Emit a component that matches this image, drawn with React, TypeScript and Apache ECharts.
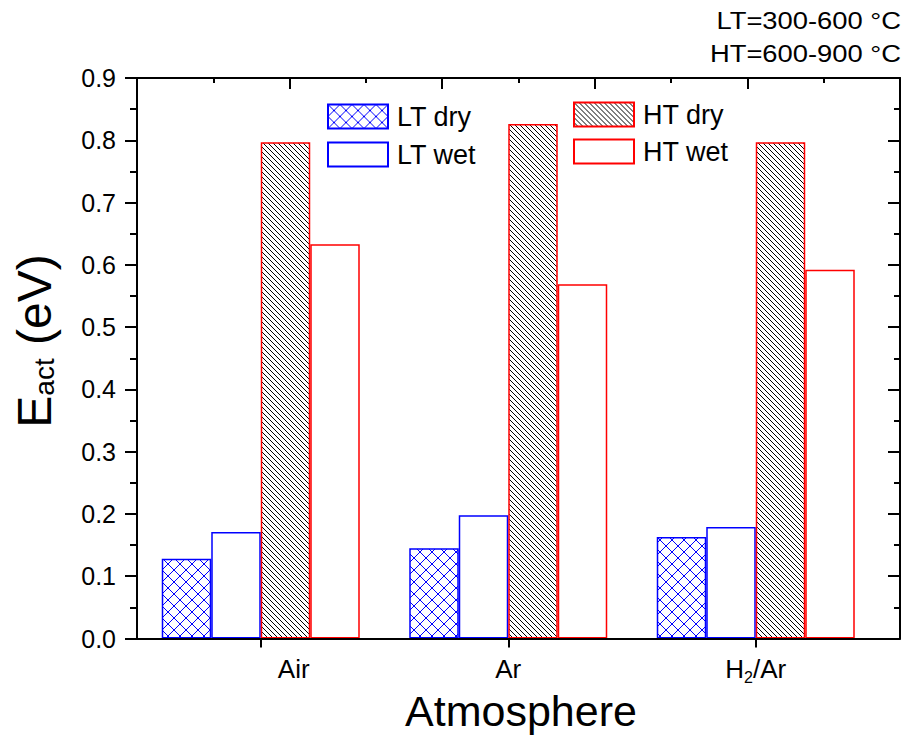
import React, { useEffect, useRef } from "react";
import * as echarts from "echarts";

const categories = ["Air", "Ar", "H2/Ar"];
const ltDry = [0.128, 0.145, 0.163];
const ltWet = [0.171, 0.198, 0.179];
const htDry = [0.797, 0.826, 0.797];
const htWet = [0.633, 0.569, 0.592];
const seriesNames = ["LT dry", "LT wet", "HT dry", "HT wet"];
const yMin = 0;
const yMax = 0.9;
const yStep = 0.1;
const noteLines = ["LT=300-600 \u00B0C", "HT=600-900 \u00B0C"];

const FONT = "'Liberation Sans', Arial, Helvetica, sans-serif";

function makePattern(kind: "cross" | "diag", color: string) {
  const p = kind === "cross" ? 12 : 5;
  const c = document.createElement("canvas");
  c.width = p;
  c.height = p;
  const ctx = c.getContext("2d")!;
  ctx.fillStyle = "#ffffff";
  ctx.fillRect(0, 0, p, p);
  ctx.fillStyle = color;
  for (let i = 0; i < p; i++) {
    ctx.fillRect(i, i, 1, 1);
    if (kind === "cross") ctx.fillRect(i, p - 1 - i, 1, 1);
  }
  return {
    image: c.toDataURL(),
    repeat: "repeat",
    imageWidth: p,
    imageHeight: p,
  } as any;
}

export default function App() {
  const ref = useRef<HTMLDivElement>(null);
  useEffect(() => {
    document.body.style.margin = "0";
    if (!ref.current) return;
    const chart = echarts.init(ref.current, null, { renderer: "svg" });
    const blue = "#0000ff";
    const red = "#ff0000";
    const black = "#000000";
    const crossBlue = makePattern("cross", blue);
    const diagBlack = makePattern("diag", black);

    const frameLine = () => ({ show: true, onZero: false, lineStyle: { color: black, width: 2 } });
    const gridBox = { left: 137, top: 78, height: 560.5 };

    const legendText = { fontSize: 27, color: black, fontFamily: FONT, padding: [0, 0, 0, 4] };

    const option: any = {
      animation: false,
      backgroundColor: "#ffffff",
      textStyle: { fontFamily: FONT },
      grid: [
        { ...gridBox, width: 763, containLabel: false },
        { ...gridBox, width: 742.5, containLabel: false },
      ],
      legend: [
        {
          orient: "vertical",
          left: 327,
          top: 103,
          padding: 0,
          itemWidth: 60,
          itemHeight: 24,
          itemGap: 11,
          icon: "rect",
          data: [seriesNames[0], seriesNames[1]],
          textStyle: legendText,
        },
        {
          orient: "vertical",
          left: 573,
          top: 101,
          padding: 0,
          itemWidth: 60,
          itemHeight: 24,
          itemGap: 10,
          icon: "rect",
          data: [seriesNames[2], seriesNames[3]],
          textStyle: legendText,
        },
      ],
      xAxis: [
        {
          gridIndex: 0,
          type: "value",
          position: "bottom",
          min: 0,
          max: 1,
          z: 5,
          axisLine: frameLine(),
          axisTick: { show: false },
          axisLabel: { show: false },
          splitLine: { show: false },
        },
        {
          gridIndex: 0,
          type: "value",
          position: "top",
          min: 0,
          max: 5,
          interval: 1,
          z: 5,
          axisLine: frameLine(),
          axisTick: { show: true, inside: true, length: 11, lineStyle: { color: black, width: 2 } },
          minorTick: { show: true, splitNumber: 2, length: 5, lineStyle: { color: black, width: 2 } },
          axisLabel: { show: false },
          splitLine: { show: false },
          minorSplitLine: { show: false },
        },
        {
          gridIndex: 1,
          type: "category",
          position: "bottom",
          data: categories,
          z: 5,
          axisLine: { show: false, onZero: false },
          axisTick: { show: true, alignWithLabel: true, length: 9, lineStyle: { color: black, width: 2 } },
          axisLabel: {
            color: black,
            fontSize: 26,
            margin: 17,
            fontFamily: FONT,
            formatter: (v: string, i: number) => {
              if (v.indexOf("2") >= 0) {
                const parts = v.split("2");
                return `{n|${parts[0]}}{s|2}{n|${parts[1]}}`;
              }
              return i === 0 ? `{a|${v}}` : `{n|${v}}`;
            },
            rich: {
              n: { fontSize: 26, color: black, fontFamily: FONT },
              a: { fontSize: 26, color: black, fontFamily: FONT, padding: [0, 0, 0, 66] },
              s: { fontSize: 16, color: black, fontFamily: FONT, verticalAlign: "bottom", padding: [0, 0, -4, 0] },
            },
          },
          splitLine: { show: false },
        },
      ],
      yAxis: [
        {
          gridIndex: 0,
          type: "value",
          position: "left",
          min: yMin,
          max: yMax,
          interval: yStep,
          z: 5,
          axisLine: frameLine(),
          axisTick: { show: true, length: 12, lineStyle: { color: black, width: 2 } },
          minorTick: { show: true, splitNumber: 2, length: 7, lineStyle: { color: black, width: 2 } },
          axisLabel: {
            color: black,
            fontSize: 25,
            margin: 21,
            fontFamily: FONT,
            formatter: (v: number) => v.toFixed(1),
          },
          splitLine: { show: false },
          minorSplitLine: { show: false },
        },
        {
          gridIndex: 0,
          type: "value",
          position: "right",
          min: yMin,
          max: yMax,
          interval: yStep,
          z: 5,
          axisLine: frameLine(),
          axisTick: { show: true, inside: true, length: 12, lineStyle: { color: black, width: 2 } },
          minorTick: { show: true, splitNumber: 2, length: 6, lineStyle: { color: black, width: 2 } },
          axisLabel: { show: false },
          splitLine: { show: false },
          minorSplitLine: { show: false },
        },
        {
          gridIndex: 1,
          type: "value",
          min: yMin,
          max: yMax,
          show: false,
          axisLine: { onZero: false },
          splitLine: { show: false },
        },
      ],
      series: [
        {
          name: seriesNames[0],
          type: "bar",
          xAxisIndex: 2,
          yAxisIndex: 2,
          data: ltDry,
          barGap: "0%",
          barCategoryGap: "20%",
          z: 2,
          itemStyle: { color: crossBlue, borderColor: blue, borderWidth: 1.5 },
        },
        {
          name: seriesNames[1],
          type: "bar",
          xAxisIndex: 2,
          yAxisIndex: 2,
          data: ltWet,
          barGap: "0%",
          barCategoryGap: "20%",
          z: 2,
          itemStyle: { color: "#ffffff", borderColor: blue, borderWidth: 1.5 },
        },
        {
          name: seriesNames[2],
          type: "bar",
          xAxisIndex: 2,
          yAxisIndex: 2,
          data: htDry,
          barGap: "0%",
          barCategoryGap: "20%",
          z: 2,
          itemStyle: { color: diagBlack, borderColor: red, borderWidth: 1.5 },
        },
        {
          name: seriesNames[3],
          type: "bar",
          xAxisIndex: 2,
          yAxisIndex: 2,
          data: htWet,
          barGap: "0%",
          barCategoryGap: "20%",
          z: 2,
          itemStyle: { color: "#ffffff", borderColor: red, borderWidth: 1.5 },
        },
      ],
      graphic: [
        {
          type: "text",
          x: 34,
          y: 341,
          rotation: Math.PI / 2,
          style: {
            text: "{e|E}{s|act}{e| (eV)}",
            align: "center",
            verticalAlign: "middle",
            fill: black,
            rich: {
              e: { fontSize: 48, fontFamily: FONT, fill: black },
              s: { fontSize: 28, fontFamily: FONT, fill: black, verticalAlign: "bottom" },
            },
          },
        },
        {
          type: "text",
          x: 521,
          y: 711,
          style: {
            text: "Atmosphere",
            align: "center",
            verticalAlign: "middle",
            fill: black,
            font: `43px ${FONT}`,
          },
        },
        {
          type: "text",
          x: 901,
          y: 21,
          scaleX: 1.14,
          style: {
            text: noteLines[0],
            align: "right",
            verticalAlign: "middle",
            fill: black,
            font: `24px ${FONT}`,
          },
        },
        {
          type: "text",
          x: 901,
          y: 54,
          scaleX: 1.14,
          style: {
            text: noteLines[1],
            align: "right",
            verticalAlign: "middle",
            fill: black,
            font: `24px ${FONT}`,
          },
        },
      ],
    };
    chart.setOption(option);
    return () => chart.dispose();
  }, []);
  return <div ref={ref} style={{ width: 910, height: 740 }} />;
}
